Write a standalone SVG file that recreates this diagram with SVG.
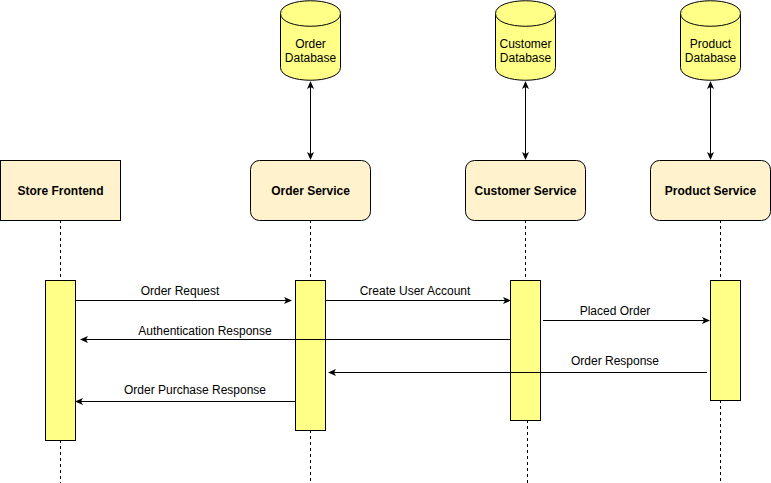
<svg xmlns="http://www.w3.org/2000/svg" width="771" height="483" viewBox="0 0 771 483">
<style>
text{font-family:"Liberation Sans",Arial,sans-serif;font-size:12px;fill:#000}
.b{font-weight:bold}
.svc{fill:#fff2cc;stroke:#000;stroke-width:1}
.db{fill:#ffff88;stroke:#000;stroke-width:1}
.act{fill:#ffff88;stroke:#000;stroke-width:1}
.life{stroke:#000;stroke-width:1;stroke-dasharray:3 3;fill:none}
.msg{stroke:#000;stroke-width:1;fill:none}
</style>
<defs>
<marker id="ah" markerWidth="8" markerHeight="8" refX="7" refY="4" orient="auto" markerUnits="userSpaceOnUse">
<path d="M0,0.5 L8,4 L0,7.5 L2,4 Z" fill="#000"/>
</marker>
<marker id="as" markerWidth="8" markerHeight="8" refX="1" refY="4" orient="auto" markerUnits="userSpaceOnUse">
<path d="M8,0.5 L0,4 L8,7.5 L6,4 Z" fill="#000"/>
</marker>
</defs>
<rect width="771" height="483" fill="#fff"/>

<g id="lifelines">
<path class="life" d="M60.5,220 V280 M60.5,440 V483"/>
<path class="life" d="M310.5,220 V280 M310.5,430 V483"/>
<path class="life" d="M525.5,220 V280 M527.5,420 V483"/>
<path class="life" d="M720.5,220 V280 M720.5,400 V483"/>
</g>

<g id="store-frontend">
<rect class="svc" x="0.5" y="160.5" width="120" height="60"/>
<text class="b" x="60.5" y="195" text-anchor="middle">Store Frontend</text>
<rect class="act" x="45.5" y="280.5" width="30" height="160"/>
</g>

<g id="order-service">
<rect class="svc" x="250.5" y="160.5" width="120" height="60" rx="9"/>
<text class="b" x="310.5" y="195" text-anchor="middle">Order Service</text>
<rect class="act" x="295.5" y="280.5" width="30" height="150"/>
</g>

<g id="customer-service">
<rect class="svc" x="465.5" y="160.5" width="120" height="60" rx="9"/>
<text class="b" x="525.5" y="195" text-anchor="middle">Customer Service</text>
<rect class="act" x="510.5" y="280.5" width="30" height="140"/>
</g>

<g id="product-service">
<rect class="svc" x="650.5" y="160.5" width="120" height="60" rx="9"/>
<text class="b" x="710.5" y="195" text-anchor="middle">Product Service</text>
<rect class="act" x="710.5" y="280.5" width="30" height="120"/>
</g>

<g id="order-database">
<path class="db" d="M280.5,13.5 C280.5,-3.5 340.5,-3.5 340.5,13.5 L340.5,67.5 C340.5,84.5 280.5,84.5 280.5,67.5 Z"/>
<path class="db" d="M280.5,13.5 C280.5,30.5 340.5,30.5 340.5,13.5" fill="none"/>
<text x="310.5" y="48" text-anchor="middle">Order</text>
<text x="310.5" y="62" text-anchor="middle">Database</text>
</g>

<g id="customer-database">
<path class="db" d="M495.5,13.5 C495.5,-3.5 555.5,-3.5 555.5,13.5 L555.5,67.5 C555.5,84.5 495.5,84.5 495.5,67.5 Z"/>
<path class="db" d="M495.5,13.5 C495.5,30.5 555.5,30.5 555.5,13.5" fill="none"/>
<text x="525.5" y="48" text-anchor="middle">Customer</text>
<text x="525.5" y="62" text-anchor="middle">Database</text>
</g>

<g id="product-database">
<path class="db" d="M680.5,13.5 C680.5,-3.5 740.5,-3.5 740.5,13.5 L740.5,67.5 C740.5,84.5 680.5,84.5 680.5,67.5 Z"/>
<path class="db" d="M680.5,13.5 C680.5,30.5 740.5,30.5 740.5,13.5" fill="none"/>
<text x="710.5" y="48" text-anchor="middle">Product</text>
<text x="710.5" y="62" text-anchor="middle">Database</text>
</g>

<g id="connectors">
<line class="msg" x1="310.5" y1="82" x2="310.5" y2="159" marker-start="url(#as)" marker-end="url(#ah)"/>
<line class="msg" x1="525.5" y1="82" x2="525.5" y2="159" marker-start="url(#as)" marker-end="url(#ah)"/>
<line class="msg" x1="710.5" y1="82" x2="710.5" y2="159" marker-start="url(#as)" marker-end="url(#ah)"/>

<line class="msg" x1="76" y1="300.5" x2="291" y2="300.5" marker-end="url(#ah)"/>
<text x="180" y="295" text-anchor="middle">Order Request</text>

<line class="msg" x1="325" y1="300.5" x2="510" y2="300.5" marker-end="url(#ah)"/>
<text x="415" y="295" text-anchor="middle">Create User Account</text>

<line class="msg" x1="510" y1="339.5" x2="81" y2="339.5" marker-end="url(#ah)"/>
<text x="205" y="335" text-anchor="middle">Authentication Response</text>

<line class="msg" x1="543" y1="320.5" x2="709" y2="320.5" marker-end="url(#ah)"/>
<text x="615" y="315" text-anchor="middle">Placed Order</text>

<line class="msg" x1="707" y1="372.5" x2="329" y2="372.5" marker-end="url(#ah)"/>
<text x="615" y="365" text-anchor="middle">Order Response</text>

<line class="msg" x1="296" y1="401.5" x2="76" y2="401.5" marker-end="url(#ah)"/>
<text x="195" y="394" text-anchor="middle">Order Purchase Response</text>
</g>
</svg>
